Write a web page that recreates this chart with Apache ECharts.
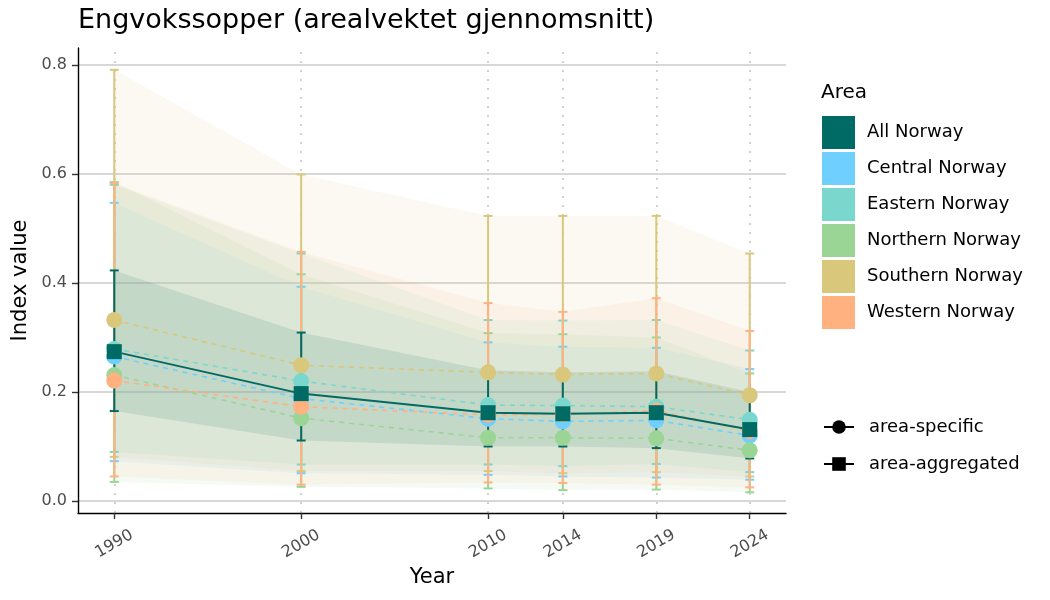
<!DOCTYPE html>
<html>
<head>
<meta charset="utf-8">
<script src="https://cdn.jsdelivr.net/npm/echarts@6/dist/echarts.min.js"></script>
<style>html,body{margin:0;padding:0;background:#fff;}#chart{width:1050px;height:600px;}</style>
</head>
<body>
<div id="chart"></div>
<script>
const years = [1990, 2000, 2010, 2014, 2019, 2024];
const yTicks = [0, 0.2, 0.4, 0.6, 0.8];
const areas = ['All Norway', 'Central Norway', 'Eastern Norway', 'Northern Norway', 'Southern Norway', 'Western Norway'];
const colors = ['#006b64', '#6fcfff', '#7ad7ce', '#9bd596', '#d9c77b', '#ffb27f'];

const allMean = [0.274, 0.197, 0.162, 0.160, 0.162, 0.131];
const allLow = [0.165, 0.111, 0.100, 0.100, 0.097, 0.078];
const allHigh = [0.423, 0.309, 0.240, 0.236, 0.238, 0.200];

const centralMean = [0.265, 0.188, 0.151, 0.146, 0.148, 0.120];
const centralLow = [0.073, 0.051, 0.048, 0.045, 0.043, 0.039];
const centralHigh = [0.547, 0.393, 0.291, 0.283, 0.281, 0.242];

const easternMean = [0.279, 0.220, 0.176, 0.175, 0.173, 0.149];
const easternLow = [0.090, 0.067, 0.067, 0.064, 0.068, 0.053];
const easternHigh = [0.580, 0.454, 0.332, 0.331, 0.332, 0.276];

const northernMean = [0.231, 0.152, 0.116, 0.116, 0.115, 0.093];
const northernLow = [0.035, 0.026, 0.023, 0.020, 0.021, 0.016];
const northernHigh = [0.585, 0.416, 0.308, 0.306, 0.300, 0.234];

const southernMean = [0.332, 0.249, 0.236, 0.232, 0.234, 0.194];
const southernLow = [0.081, 0.055, 0.055, 0.051, 0.053, 0.045];
const southernHigh = [0.791, 0.599, 0.523, 0.523, 0.523, 0.454];

const westernMean = [0.221, 0.173, 0.158, 0.159, 0.166, 0.128];
const westernLow = [0.045, 0.030, 0.034, 0.033, 0.030, 0.025];
const westernHigh = [0.583, 0.457, 0.363, 0.347, 0.372, 0.312];

const means = [allMean, centralMean, easternMean, northernMean, southernMean, westernMean];
const lows = [allLow, centralLow, easternLow, northernLow, southernLow, westernLow];
const highs = [allHigh, centralHigh, easternHigh, northernHigh, southernHigh, westernHigh];

const FONT = 'DejaVu Sans';
const series = [];

// vertical dotted reference lines at survey years
series.push({
  type: 'line', name: '_vlines', data: [], silent: true, z: 0,
  markLine: {
    silent: true, z: 0, zlevel: 0, symbol: ['none', 'none'], label: { show: false },
    lineStyle: { color: '#c4c4c4', type: [2, 7], width: 1.5 },
    emphasis: { disabled: true },
    data: years.map(y => ({ xAxis: y }))
  }
});

// ribbons
areas.forEach((name, k) => {
  const isAll = k === 0;
  series.push({
    type: 'custom', name: name, z: 1, silent: true,
    itemStyle: { color: colors[k] },
    data: years.map((y, i) => [y, lows[k][i], highs[k][i]]),
    encode: { x: 0, y: [1, 2] },
    renderItem: function (params, api) {
      if (params.dataIndex !== 0) return null;
      const n = years.length;
      const pts = [];
      for (let i = 0; i < n; i++) pts.push(api.coord([api.value(0, i), api.value(2, i)]));
      for (let i = n - 1; i >= 0; i--) pts.push(api.coord([api.value(0, i), api.value(1, i)]));
      return { type: 'polygon', shape: { points: pts },
        style: { fill: colors[k], opacity: isAll ? 0.17 : 0.1 } };
    }
  });
});

// error bars
const errOrder = [1, 2, 3, 4, 5, 0];
errOrder.forEach(k => {
  series.push({
    type: 'custom', name: areas[k], z: 2, silent: true,
    itemStyle: { color: colors[k] },
    data: years.map((y, i) => [y, lows[k][i], highs[k][i]]),
    encode: { x: 0, y: [1, 2] },
    renderItem: function (params, api) {
      const lo = api.coord([api.value(0), api.value(1)]);
      const hi = api.coord([api.value(0), api.value(2)]);
      const w = 4.5;
      return { type: 'group', children: [
        { type: 'line', shape: { x1: lo[0], y1: lo[1], x2: hi[0], y2: hi[1] }, style: { stroke: colors[k], lineWidth: 2 } },
        { type: 'line', shape: { x1: lo[0] - w, y1: lo[1], x2: lo[0] + w, y2: lo[1] }, style: { stroke: colors[k], lineWidth: 2 } },
        { type: 'line', shape: { x1: hi[0] - w, y1: hi[1], x2: hi[0] + w, y2: hi[1] }, style: { stroke: colors[k], lineWidth: 2 } }
      ] };
    }
  });
});

// lines
errOrder.forEach(k => {
  const isAll = k === 0;
  series.push({
    type: 'line', name: areas[k], z: isAll ? 4 : 3, silent: true,
    symbol: 'none',
    itemStyle: { color: colors[k] },
    lineStyle: { color: colors[k], width: isAll ? 2 : 1.6, type: isAll ? 'solid' : [5, 5] },
    data: years.map((y, i) => [y, means[k][i]])
  });
});

// points
errOrder.forEach(k => {
  const isAll = k === 0;
  series.push({
    type: 'scatter', name: areas[k], z: isAll ? 6 : 5, silent: true,
    symbol: isAll ? 'rect' : 'circle', symbolSize: isAll ? 15 : 16,
    itemStyle: { color: colors[k], opacity: 1 },
    data: years.map((y, i) => [y, means[k][i]])
  });
});

// shape legend dummies
series.push({ type: 'line', name: 'area-specific', data: [], symbol: 'circle', symbolSize: 12,
  itemStyle: { color: '#000' }, lineStyle: { color: '#000', width: 2 } });
series.push({ type: 'line', name: 'area-aggregated', data: [], symbol: 'rect', symbolSize: 12,
  itemStyle: { color: '#000' }, lineStyle: { color: '#000', width: 2 } });

const option = {
  animation: false,
  backgroundColor: '#fff',
  textStyle: { fontFamily: FONT },
  title: [
    { text: 'Engvokssopper (arealvektet gjennomsnitt)', left: 78, top: 7, padding: 0,
      textStyle: { fontFamily: FONT, fontSize: 27, fontWeight: 'normal', color: '#000' } },
    { text: 'Area', left: 821, top: 83, padding: 0,
      textStyle: { fontFamily: FONT, fontSize: 20, fontWeight: 'normal', color: '#000' } }
  ],
  legend: [
    { data: areas, orient: 'vertical', left: 822, top: 116, icon: 'rect', padding: 0,
      itemWidth: 33, itemHeight: 33, itemGap: 3, selectedMode: false,
      itemStyle: { borderWidth: 0 },
      textStyle: { fontFamily: FONT, fontSize: 18, color: '#000', padding: [0, 0, 0, 7] } },
    { data: ['area-specific', 'area-aggregated'], orient: 'vertical', left: 823, top: 418, padding: 0,
      itemWidth: 30, itemHeight: 17, itemGap: 19, selectedMode: false,
      textStyle: { fontFamily: FONT, fontSize: 18, color: '#000', padding: [0, 0, 0, 10] } }
  ],
  grid: { left: 78, right: 264, top: 48, bottom: 87, containLabel: false },
  xAxis: {
    type: 'value', min: 1988.06, max: 2025.94,
    name: 'Year', nameLocation: 'middle', nameGap: 54, nameMoveOverlap: false,
    nameTextStyle: { fontFamily: FONT, fontSize: 21, color: '#000' },
    axisLine: { show: true, onZero: false, lineStyle: { color: '#000', width: 1.4 } },
    axisTick: { show: true, length: 6, customValues: years, lineStyle: { color: '#333', width: 1.4 } },
    axisLabel: { customValues: years, rotate: 30, fontFamily: FONT, fontSize: 16, color: '#4d4d4d',
      margin: 31, align: 'center', verticalAlign: 'middle', formatter: v => String(v) },
    splitLine: { show: false }
  },
  yAxis: {
    type: 'value', min: -0.022, max: 0.831,
    name: 'Index value', nameLocation: 'middle', nameGap: 47, nameRotate: 90, nameMoveOverlap: false,
    nameTextStyle: { fontFamily: FONT, fontSize: 21, color: '#000' },
    axisLine: { show: true, onZero: false, lineStyle: { color: '#000', width: 1.4 } },
    axisTick: { show: true, length: 6, customValues: yTicks, lineStyle: { color: '#333', width: 1.4 } },
    axisLabel: { customValues: yTicks, fontFamily: FONT, fontSize: 16, color: '#4d4d4d', margin: 11,
      formatter: v => v.toFixed(1) },
    splitLine: { show: true, lineStyle: { color: '#cbcbcb', width: 1.5 } }
  },
  series: series
};

const chart = echarts.init(document.getElementById('chart'), null, { renderer: 'canvas' });
chart.setOption(option);
</script>
</body>
</html>
